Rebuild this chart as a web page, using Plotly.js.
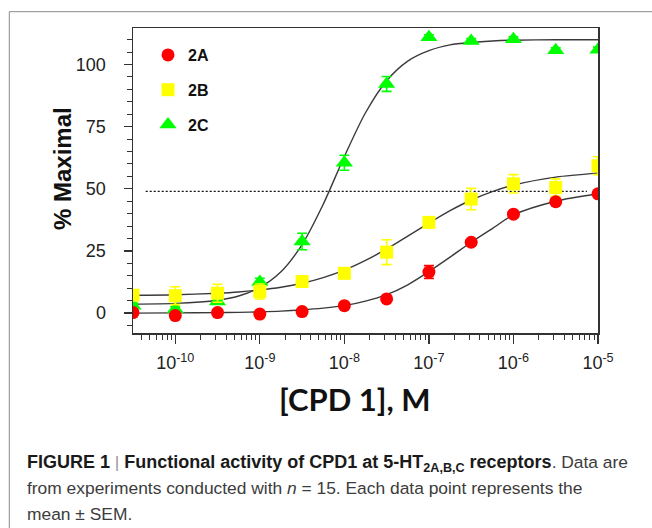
<!DOCTYPE html>
<html>
<head>
<meta charset="utf-8">
<script src="https://cdn.plot.ly/plotly-3.0.1.min.js"></script>
<style>html,body{margin:0;padding:0;background:#fff;}</style>
</head>
<body>
<div id="chart" style="width:652px;height:528px;"></div>
<script>
// ---- data ----
const concentrations = [3.162e-11, 1e-10, 3.162e-10, 1e-9, 3.162e-9, 1e-8, 3.162e-8, 1e-7, 3.162e-7, 1e-6, 3.162e-6, 1e-5];
const values2A = [0.2, -1.0, 0.2, -0.4, 0.6, 3.0, 5.7, 16.5, 28.5, 39.8, 44.8, 48.0];
const sem2A    = [0.5, 0.5, 0.5, 0.5, 0.5, 0.6, 0.8, 2.6, 1.0, 1.0, 1.0, 1.0];
const values2B = [7.2, 7.0, 8.0, 8.7, 12.7, 16.0, 24.5, 36.5, 45.9, 52.0, 50.5, 59.3];
const sem2B    = [1.5, 3.6, 3.6, 3.0, 1.0, 1.0, 5.0, 1.5, 4.3, 3.7, 3.5, 3.6];
const values2C = [3.0, 1.6, 4.7, 12.5, 28.8, 60.5, 92.2, 111.0, 109.5, 110.2, 105.7, 106.0];
const sem2C    = [1.0, 1.0, 1.0, 1.5, 3.3, 3.0, 3.0, 1.0, 1.0, 1.0, 1.0, 1.0];

// fitted curves at quarter/half decades
const curveLogConc = [-10.5, -10, -9.5, -9.25, -9, -8.75, -8.5, -8.25, -8, -7.75, -7.5, -7.25, -7, -6.75, -6.5, -6.25, -6, -5.5, -5];
const curve2A = [0, 0.1, 0.2, 0.3, 0.5, 0.8, 1.3, 2.0, 3.0, 4.8, 7.4, 11.4, 16.7, 22.5, 28.5, 34.0, 39.5, 45.0, 48.0];
const curve2B = [7.2, 7.4, 8.0, 8.5, 9.3, 10.4, 12.0, 14.3, 17.3, 21.2, 25.8, 31.0, 36.2, 41.2, 45.5, 48.9, 51.5, 54.7, 56.3];
const curve2C = [3.6, 3.9, 5.2, 6.9, 10.3, 16.6, 27.6, 43.8, 63.0, 80.6, 93.5, 101.4, 105.6, 107.9, 108.9, 109.5, 109.8, 110.0, 110.0];

// dotted reference line (half-maximal level)
const refLineConc = [4.47e-11, 7.4e-6];
const refLineLevel = [49, 49];

const xTickVals = [1e-10, 1e-9, 1e-8, 1e-7, 1e-6, 1e-5];
const xTickText = ['10<sup>-10</sup>', '10<sup>-9</sup>', '10<sup>-8</sup>', '10<sup>-7</sup>', '10<sup>-6</sup>', '10<sup>-5</sup>'];
const yTickVals = [0, 25, 50, 75, 100];
const yTickText = ['0', '25', '50', '75', '100'];

const seriesNames = ['2A', '2B', '2C'];
const xTitle = '[CPD 1], M';
const yTitle = '% Maximal';
const captionLines = [
  '<span style="font-size:18px;color:#1a1a1a"><b>FIGURE 1</b></span> <span style="color:#9a9a9a">|</span> <span style="font-size:18px;color:#1a1a1a"><b>Functional activity of CPD1 at 5-HT<sub>2A,B,C</sub> receptors</b></span>. Data are',
  'from experiments conducted with <i>n</i> = 15. Each data point represents the',
  'mean ± SEM.'
];
// ---- end data ----

const curveConc = curveLogConc.map(v => Math.pow(10, v));
const lineStyle = {color: '#3a3a3a', width: 1.4, shape: 'spline', smoothing: 0.8};

function curveTrace(y) {
  return {x: curveConc, y: y, type: 'scatter', mode: 'lines', line: lineStyle, showlegend: false, hoverinfo: 'skip'};
}
function pointTrace(name, y, err, color, symbol, size, rank) {
  return {
    x: concentrations, y: y, type: 'scatter', mode: 'markers', name: '<b>' + name + '</b>',
    legendgroup: name, legendrank: rank,
    marker: {color: color, symbol: symbol, size: size, line: {width: 0}},
    error_y: {type: 'data', array: err, visible: true, color: color, thickness: 1.6, width: 5}
  };
}

const data = [
  {x: refLineConc, y: refLineLevel, type: 'scatter', mode: 'lines', line: {color: '#111', width: 1.2, dash: '2px,2px'}, showlegend: false, hoverinfo: 'skip'},
  curveTrace(curve2C),
  curveTrace(curve2B),
  curveTrace(curve2A),
  pointTrace(seriesNames[2], values2C, sem2C, '#00ff00', 'triangle-up', 15, 3),
  pointTrace(seriesNames[1], values2B, sem2B, '#ffff00', 'square', 13, 2),
  pointTrace(seriesNames[0], values2A, sem2A, '#ff0000', 'circle', 13, 1)
];

const L = 133, R = 54, T = 28, B = 195;
const PW = 652 - L - R, PH = 528 - T - B;
const px = v => (v - L) / PW;
const py = v => (528 - B - v) / PH;

const annotations = captionLines.map((t, i) => ({
  text: t, xref: 'paper', yref: 'paper', x: px(25), y: py(463 + i * 25.3),
  xanchor: 'left', yanchor: 'middle', showarrow: false, align: 'left',
  font: {family: 'Liberation Sans, Arial, sans-serif', size: 17.4, color: '#3c3c3c'}
}));
// axis titles placed where the reference draws them
annotations.push({
  text: '<b>' + yTitle + '</b>', xref: 'paper', yref: 'paper', x: px(62), y: py(169),
  xanchor: 'center', yanchor: 'middle', textangle: -90, showarrow: false,
  font: {family: 'Liberation Sans, Arial, sans-serif', size: 24, color: '#111'}
});
annotations.push({
  text: '<b>' + xTitle + '</b>', xref: 'paper', yref: 'paper', x: px(355), y: py(399),
  xanchor: 'center', yanchor: 'middle', showarrow: false,
  font: {family: 'Lato, Liberation Sans, sans-serif', size: 31, color: '#111'}
});

const layout = {
  width: 652, height: 528,
  margin: {l: L, r: R, t: T, b: B, pad: 0},
  paper_bgcolor: '#ffffff', plot_bgcolor: '#ffffff',
  font: {family: 'Liberation Sans, Arial, sans-serif', color: '#1e1e1e'},
  showlegend: true,
  legend: {
    x: px(148), y: py(38), xanchor: 'left', yanchor: 'top',
    bgcolor: 'rgba(0,0,0,0)', borderwidth: 0,
    font: {size: 16, color: '#111'},
    traceorder: 'grouped', tracegroupgap: 11
  },
  xaxis: {
    type: 'log', range: [-10.5, -5],
    tickmode: 'array', tickvals: xTickVals, ticktext: xTickText,
    ticks: 'outside', ticklen: 9, tickwidth: 1.3, tickcolor: '#333',
    showline: true, linecolor: '#333', linewidth: 1.5, mirror: true,
    showgrid: false, zeroline: false,
    tickfont: {size: 18, color: '#222'}, ticklabelstandoff: 4,
    minor: {ticks: 'outside', ticklen: 5, tickwidth: 1, tickcolor: '#333', dtick: 'D1', showgrid: false}
  },
  yaxis: {
    range: [-8, 114.7],
    tickmode: 'array', tickvals: yTickVals, ticktext: yTickText,
    ticks: 'outside', ticklen: 8, tickwidth: 1.3, tickcolor: '#333',
    showline: true, linecolor: '#333', linewidth: 1.5, mirror: true,
    showgrid: false, zeroline: false,
    tickfont: {size: 18, color: '#222'}, ticklabelstandoff: 14,
    minor: {ticks: 'outside', ticklen: 5, tickwidth: 1, tickcolor: '#333', dtick: 5, tick0: 0, showgrid: false}
  },
  shapes: [
    {type: 'rect', xref: 'paper', yref: 'paper', x0: px(9.3), x1: px(700), y0: py(600), y1: py(11.7),
     line: {color: '#8a8a8a', width: 1}, fillcolor: 'rgba(0,0,0,0)', layer: 'below'}
  ],
  annotations: annotations
};

Plotly.newPlot('chart', data, layout, {displayModeBar: false, staticPlot: true});
</script>
</body>
</html>
